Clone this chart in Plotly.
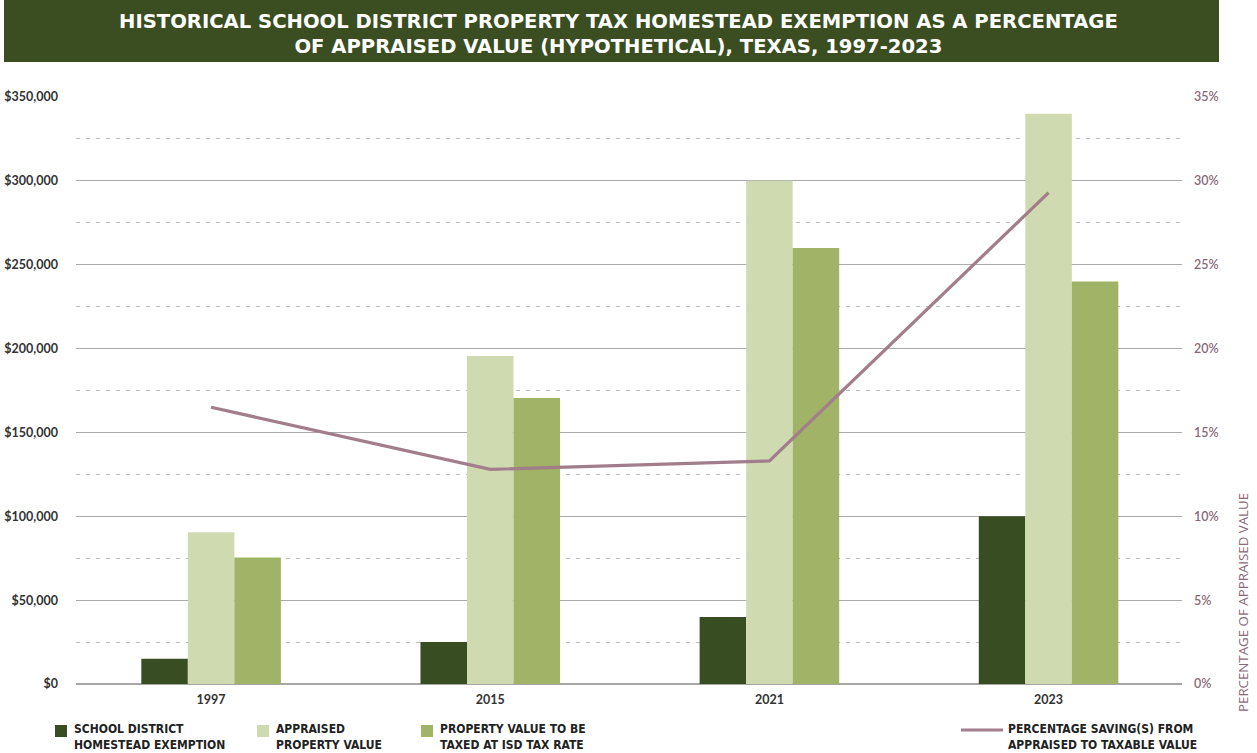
import plotly.graph_objects as go

years = ["1997", "2015", "2021", "2023"]
exemption = [15000, 25000, 40000, 100000]
appraised = [90500, 195500, 300000, 340000]
taxable = [75500, 170500, 260000, 240000]
pct_saving = [0.165, 0.128, 0.133, 0.293]

series_names = [
    "SCHOOL DISTRICT<br>HOMESTEAD EXEMPTION",
    "APPRAISED<br>PROPERTY VALUE",
    "PROPERTY VALUE TO BE<br>TAXED AT ISD TAX RATE",
]
line_name = "PERCENTAGE SAVING(S) FROM<br>APPRAISED TO TAXABLE VALUE"
y_ticks = [0, 50000, 100000, 150000, 200000, 250000, 300000, 350000]
y2_ticks = [0, 0.05, 0.10, 0.15, 0.20, 0.25, 0.30, 0.35]

C_DARK = "#384d22"
C_LIGHT = "#d0dab1"
C_MID = "#a0b366"
C_LINE = "#a27d8b"
C_AXIS2 = "#8a6878"
TITLE_BG = "#3a4e21"

W, H = 1257, 753
L, R, T, B = 76, 75, 97, 69
PW, PH = W - L - R, H - T - B

def px(x):
    return (x - L) / PW

def py(y):
    return (H - B - y) / PH

fig = go.Figure()
for vals, col, name in zip([exemption, appraised, taxable], [C_DARK, C_LIGHT, C_MID], series_names):
    fig.add_trace(go.Bar(x=years, y=vals, marker=dict(color=col, line=dict(width=0)),
                         name=name, showlegend=False))
fig.add_trace(go.Scatter(x=years, y=pct_saving, yaxis="y2", mode="lines",
                         line=dict(color=C_LINE, width=3.2), name=line_name, showlegend=False))

tick_font = dict(family="Lato, sans-serif", size=12.5, color="#333333", weight=700)

fig.update_layout(
    width=W, height=H,
    margin=dict(l=L, r=R, t=T, b=B, autoexpand=False),
    paper_bgcolor="white", plot_bgcolor="white",
    barmode="group", bargap=0.5, bargroupgap=0,
    xaxis=dict(type="category", range=[-0.484, 3.478], showgrid=False, showline=False,
               ticks="", tickfont=tick_font, ticklabelstandoff=6, automargin=False),
    yaxis=dict(range=[0, 350000], tickvals=y_ticks, tickformat="$,.0f",
               showgrid=True, gridcolor="#ababab", gridwidth=1,
               minor=dict(dtick=25000, tick0=0, showgrid=True, gridcolor="#bdbdbd",
                          griddash="4px,6px", gridwidth=1, ticks=""),
               zeroline=True, zerolinecolor="#a6a6a6", zerolinewidth=2,
               ticks="", tickfont=tick_font, ticklabelstandoff=17, automargin=False),
    yaxis2=dict(range=[0, 0.35], tickvals=y2_ticks, tickformat=".0%", overlaying="y",
                side="right", showgrid=False, zeroline=False, ticks="", automargin=False,
                tickfont=dict(family="Lato, sans-serif", size=12.5, color=C_AXIS2, weight=600),
                ticklabelstandoff=11),
)

# title band
fig.add_shape(type="rect", xref="paper", yref="paper", x0=px(4), x1=px(1219),
              y0=py(62), y1=py(0), fillcolor=TITLE_BG, line=dict(width=0), layer="above")
fig.add_annotation(xref="paper", yref="paper", x=px(618), y=py(34), showarrow=False,
                   text="HISTORICAL SCHOOL DISTRICT PROPERTY TAX HOMESTEAD EXEMPTION AS A PERCENTAGE<br>OF APPRAISED VALUE (HYPOTHETICAL), TEXAS, 1997-2023",
                   font=dict(family="DejaVu Sans, sans-serif", size=19.6, color="white", weight=700),
                   align="center", xanchor="center", yanchor="middle")

# right axis title
fig.add_annotation(xref="paper", yref="paper", x=px(1243), y=py(603), showarrow=False,
                   text="PERCENTAGE OF APPRAISED VALUE", textangle=-90,
                   font=dict(family="Open Sans, sans-serif", size=13.3, color=C_AXIS2),
                   xanchor="center", yanchor="middle")

# custom legend
leg_font = dict(family="Liberation Sans Narrow, DejaVu Sans Condensed, sans-serif", size=12,
                color="#222222", weight=700)
sq = [(55, C_DARK, series_names[0]), (257, C_LIGHT, series_names[1]), (421, C_MID, series_names[2])]
for x0, col, name in sq:
    fig.add_shape(type="rect", xref="paper", yref="paper", x0=px(x0), x1=px(x0 + 12),
                  y0=py(737), y1=py(725), fillcolor=col, line=dict(width=0))
    fig.add_annotation(xref="paper", yref="paper", x=px(x0 + 17), y=py(737), showarrow=False,
                       text=name, font=leg_font, align="left", xanchor="left", yanchor="middle")
fig.add_shape(type="line", xref="paper", yref="paper", x0=px(961), x1=px(1003),
              y0=py(730), y1=py(730), line=dict(color=C_LINE, width=3))
fig.add_annotation(xref="paper", yref="paper", x=px(1006), y=py(737), showarrow=False,
                   text=line_name, font=leg_font, align="left", xanchor="left", yanchor="middle")

fig.write_html("out.html")
